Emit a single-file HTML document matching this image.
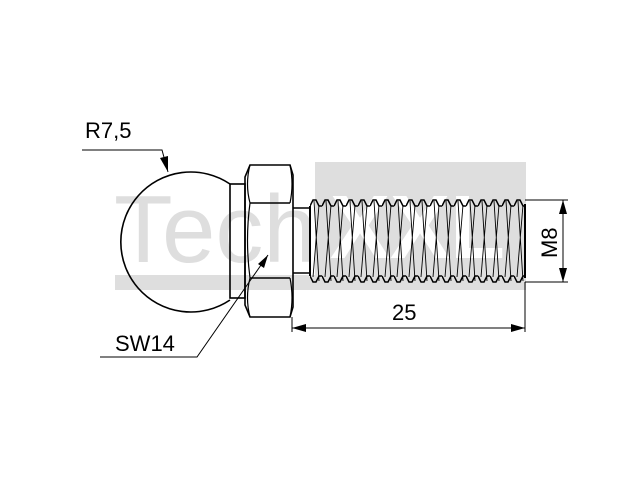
<!DOCTYPE html>
<html><head><meta charset="utf-8"><style>html,body{margin:0;padding:0;background:#fff}svg{display:block}</style></head>
<body>
<svg width="640" height="480" viewBox="0 0 640 480" xmlns="http://www.w3.org/2000/svg">
<defs>
<pattern id="th" x="310" y="0" width="12" height="480" patternUnits="userSpaceOnUse">
<path d="M0 206 L3 200 L6 200 L9 206 L12 206" fill="none" stroke="#000" stroke-width="1.5"/>
<path d="M0 276 L3 282 L6 282 L9 276 L12 276" fill="none" stroke="#000" stroke-width="1.5"/>
<path d="M4 201 L9 281 M9 205 L3 277" fill="none" stroke="#000" stroke-width="0.9"/>
</pattern>
</defs>
<!-- watermark -->
<rect x="315" y="162" width="211" height="128" fill="#dedede"/>
<rect x="115" y="275" width="202" height="15" fill="#dedede"/>
<text x="114" y="262" font-family="Liberation Sans, sans-serif" font-size="96" fill="#dedede">Tech</text>
<text x="330" y="258" font-family="Liberation Sans, sans-serif" font-size="90" fill="#fff" font-weight="bold">XXL</text>
<g fill="none" stroke="#000" stroke-width="1.6">
<!-- ball -->
<path d="M230 184 A70 70 0 1 0 230 300"/>
<!-- neck -->
<rect x="230" y="184" width="15" height="114"/>
<!-- hex -->
<path d="M250 165 L290 165 L293 175 L293 307 L290 317 L250 317 L245 305 L245 177 Z"/>
<path d="M250 203 L290 203 M250 278 L290 278"/>
<path d="M250 165 Q245 184 250 203 Q245 240 250 278 Q245 298 250 317" stroke-width="1.2"/>
<path d="M290 165 Q294 184 290 203 M290 278 Q294 298 290 317" stroke-width="1.2"/>
<!-- shank -->
<path d="M293 208 L311 208 M293 273 L311 273"/>
<!-- thread -->
<rect x="310" y="199" width="216" height="84" fill="url(#th)" stroke="none"/>
<path d="M310 206 L310 276 M525 204 L525 278" stroke-width="2"/>
</g>
<!-- dimensions -->
<g stroke="#000" stroke-width="1" fill="none">
<path d="M525 200 L568 200 M525 282 L568 282 M563 200 L563 282"/>
<path d="M525 282 L525 332 M292 317 L292 332 M292 328 L525 328"/>
<path d="M82 150 L162 150 L168 172"/>
<path d="M100 357 L197 357 L268 255"/>
</g>
<g fill="#000">
<path d="M563 200 L559 214 L567 214 Z M563 282 L559 268 L567 268 Z"/>
<path d="M292 328 L306 324 L306 332 Z M525 328 L511 324 L511 332 Z"/>
<path d="M168 172 L160 158 L168 156 Z"/>
<path d="M268 255 L258 264 L264 268 Z"/>
</g>
<g font-family="Liberation Sans, sans-serif" font-size="22" fill="#000">
<text x="85" y="138">R7,5</text>
<text x="115" y="351">SW14</text>
<text x="392" y="320">25</text>
<text transform="translate(557,258) rotate(-90)">M8</text>
</g>
</svg>
</body></html>
